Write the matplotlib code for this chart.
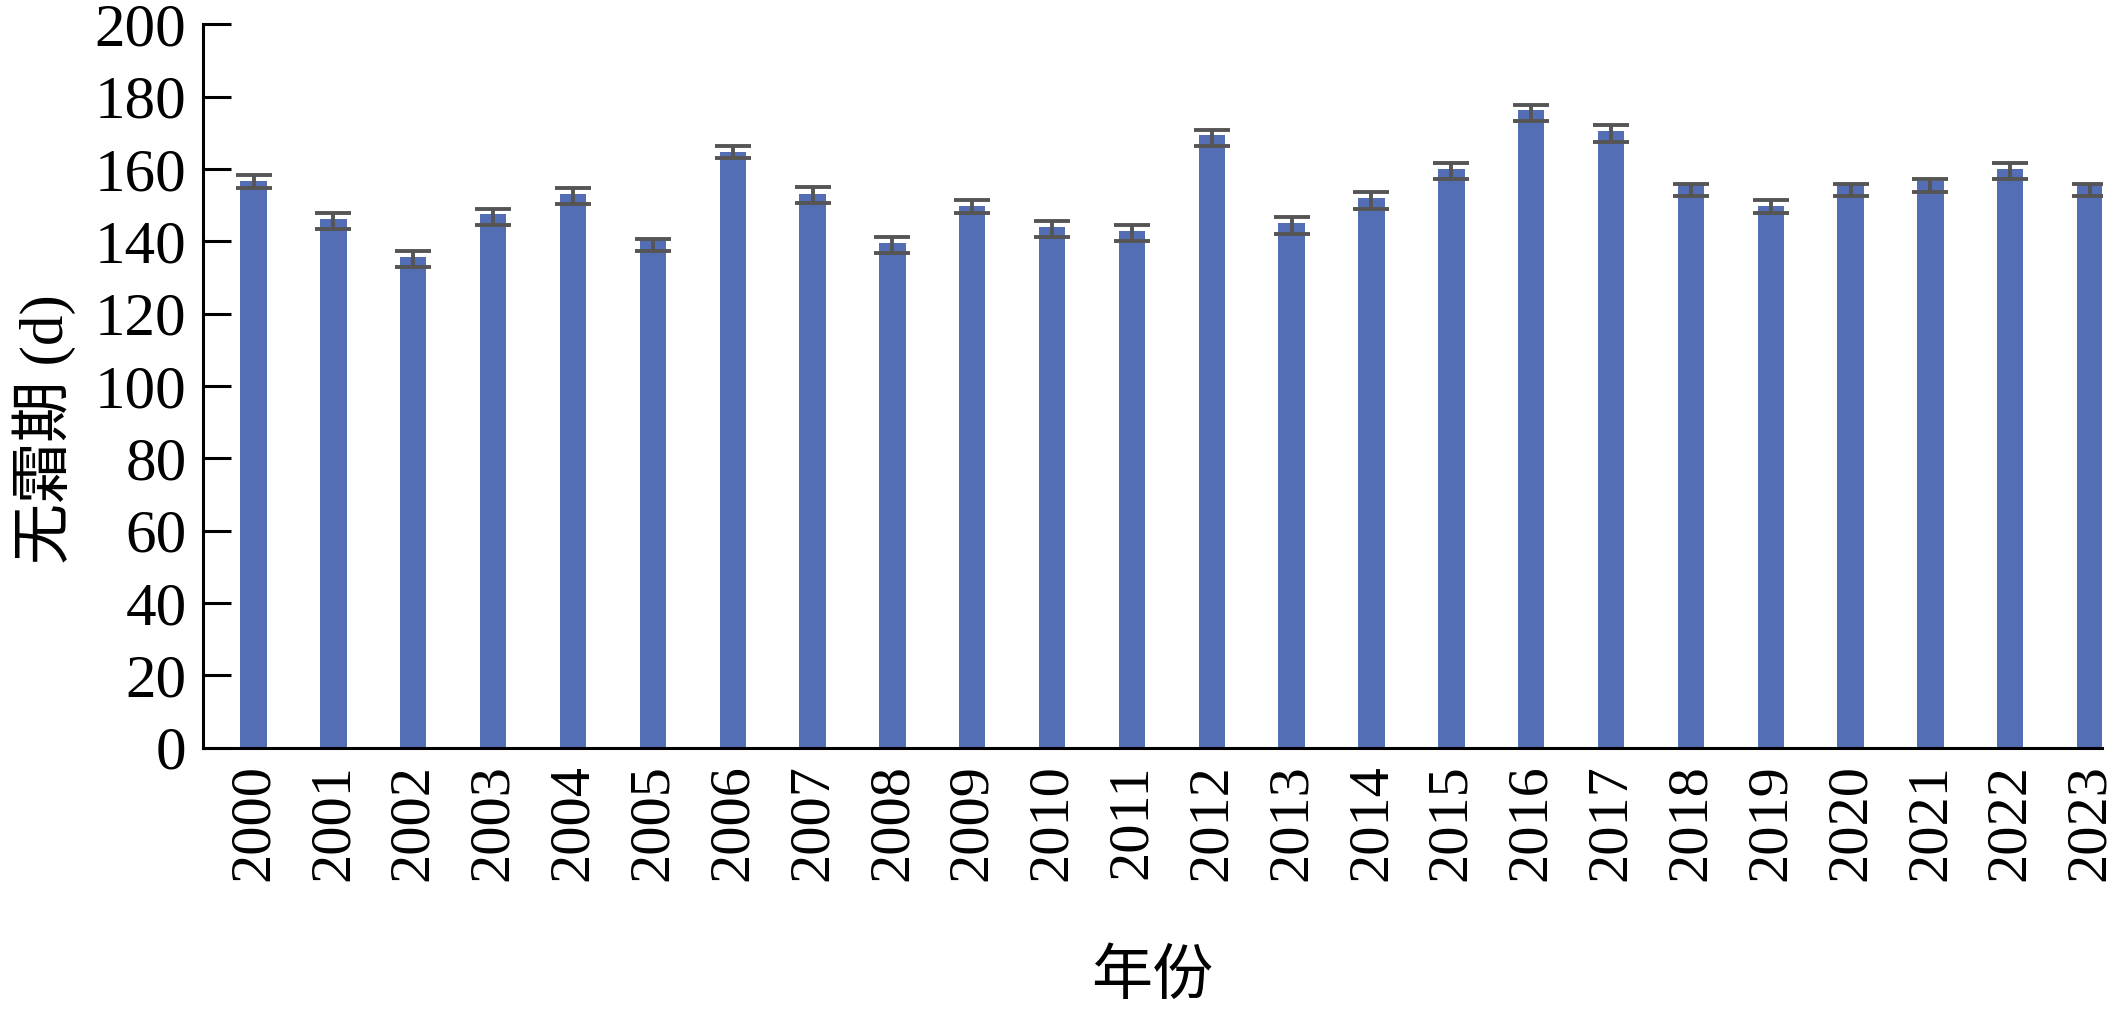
import matplotlib
matplotlib.use('Agg')
import matplotlib.pyplot as plt
import numpy as np

# 年份与无霜期数据
years = [str(y) for y in range(2000, 2024)]
frost_free = [156.7, 146.1, 135.7, 147.5, 153.1, 140.3, 164.7, 153.2,
              139.4, 149.8, 144.0, 142.9, 169.4, 145.0, 151.9, 160.0,
              176.4, 170.6, 155.6, 149.7, 155.6, 156.7, 160.0, 155.6]
err_low = [2.0, 2.7, 2.9, 2.9, 2.7, 2.9, 1.8, 2.6, 2.7, 1.9, 2.8, 2.9,
           3.0, 3.1, 3.0, 2.8, 3.1, 3.1, 3.1, 1.9, 3.1, 3.1, 2.8, 3.1]
err_high = [1.7, 1.7, 1.7, 1.4, 1.7, 0.4, 1.7, 1.7, 1.8, 1.7, 1.7, 1.6,
            1.4, 1.7, 1.7, 1.7, 1.4, 1.6, 0.3, 1.7, 0.3, 0.5, 1.7, 0.3]
yticks = list(range(0, 201, 20))

serif = ['Liberation Serif', 'Noto Sans CJK SC']
plt.rcParams['font.family'] = serif

fig = plt.figure(figsize=(21.24, 10.13), dpi=100)
ax = fig.add_axes([0.0957, 0.262, 0.894, 0.714])

x = np.arange(len(years))
ax.bar(x, frost_free, width=0.33, color='#546EB6', zorder=2)
ax.errorbar(x, frost_free, yerr=[err_low, err_high], fmt='none',
            ecolor='#555555', elinewidth=2.8, capsize=13, capthick=2.8, zorder=3)

ax.set_ylim(0, 200)
ax.set_xlim(-0.63, len(years) - 1 + 0.15)
ax.set_yticks(yticks)
ax.set_xticks(x)
ax.set_xticklabels(years, rotation=90)

for s in ['top', 'right']:
    ax.spines[s].set_visible(False)
for s in ['left', 'bottom']:
    ax.spines[s].set_linewidth(2.2)

ax.tick_params(axis='y', direction='in', length=20, width=2.2, labelsize=44, pad=12)
ax.tick_params(axis='x', length=0, labelsize=42, pad=12)

ax.set_ylabel('无霜期 (d)', fontsize=44)
ax.yaxis.set_label_coords(-0.067, 0.44)
ax.set_xlabel('年份', fontsize=44, labelpad=50)

fig.savefig('out.png', dpi=100)
